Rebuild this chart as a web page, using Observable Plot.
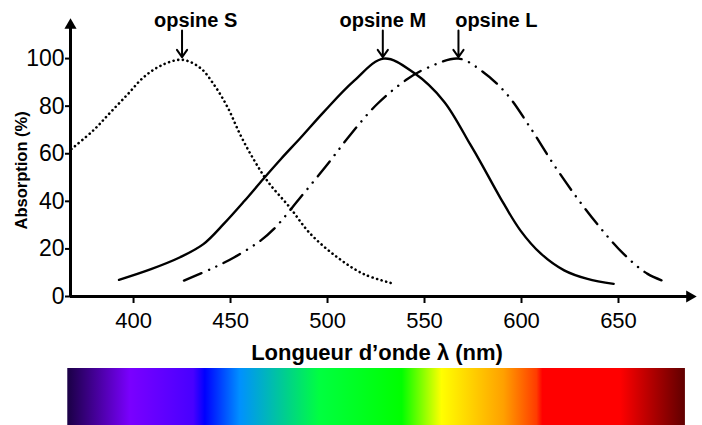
<!DOCTYPE html>
<html>
<head>
<meta charset="utf-8">
<script src="https://cdn.jsdelivr.net/npm/d3@7"></script>
<script src="https://cdn.jsdelivr.net/npm/@observablehq/plot@0.6"></script>
<style>
  html, body { margin: 0; padding: 0; background: #fff; }
  svg { display: block; }
</style>
</head>
<body>
<div id="chart"></div>
<script>
// ---- data ----
const xDomain = [367.5, 689.7];
const yDomain = [0, 116];
const xTicks = [400, 450, 500, 550, 600, 650];
const yTicks = [0, 20, 40, 60, 80, 100];

const sWl = [368, 379.5, 388, 397, 405, 414, 425, 434.5, 441.5, 448.5, 455, 462, 469.5, 480.5, 491, 505, 518.5, 533];
const sAbs = [62, 70, 77.3, 85, 92, 97, 99.5, 96, 89, 79.5, 68, 57.5, 48, 37.5, 26.5, 16.5, 9.5, 5.6];

const mWl = [392.5, 409, 424, 436, 446.5, 457, 467, 476, 486, 498, 513.5, 529, 544.5, 560, 573.5, 579, 589, 599.5, 610, 622, 634, 647.5];
const mAbs = [7, 11.5, 16.5, 22, 30.5, 40, 49.5, 57.8, 66.6, 77.5, 90.5, 100, 94, 82, 64, 56.3, 41.6, 27.7, 18, 11, 7.4, 5.3];

const lWl = [426, 440, 452, 465.5, 472.5, 486, 500, 512, 525.5, 541, 551.5, 567.5, 580, 592.5, 604.5, 616.5, 628.5, 640.5, 652.5, 665, 676];
const lAbs = [6.7, 11.6, 16.5, 23.5, 28.5, 41.6, 55.6, 68.2, 80.8, 91.3, 96.1, 100, 94.5, 85, 71, 55.6, 41.6, 29, 18, 9.5, 5.7];

const opsineNames = ["opsine S", "opsine M", "opsine L"];
const peakWl = [425, 528.5, 567.5];
const labelWl = [432, 528.5, 587];

const specWl = [366.1, 398.5, 431, 437, 455, 479, 496, 538.5, 559, 591, 608, 611, 651, 684.5];
const specColors = ["#1a0045", "#7a00ff", "#4800ff", "#0000ff", "#0090ff", "#00d08c", "#00ff40", "#00ff00", "#ffff00", "#ffa000", "#ff3c00", "#ff0000", "#ff0000", "#600000"];

const xLabel = "Longueur d’onde λ (nm)";
const yLabel = "Absorption (%)";
const yLabelPos = {x: 342.2, y: 53};

// ---- build ----
const toPts = (wl, v) => wl.map((w, i) => ({x: w, y: v[i]}));
const S = toPts(sWl, sAbs), M = toPts(mWl, mAbs), L = toPts(lWl, lAbs);
const ann = opsineNames.map((n, i) => ({name: n, peak: peakWl[i], lx: labelWl[i]}));

const font = "Liberation Sans, Arial, Helvetica, sans-serif";
const common = {
  width: 702, marginLeft: 70, marginRight: 7,
  style: {fontFamily: font, color: "#000", background: "#fff", overflow: "visible"}
};

const main = Plot.plot({
  ...common,
  height: 368, marginTop: 20, marginBottom: 72,
  x: {domain: xDomain},
  y: {domain: yDomain},
  marks: [
    Plot.axisX({ticks: xTicks, tickSize: 7, tickPadding: 9, fontSize: 22, strokeWidth: 2, label: null}),
    Plot.axisY({ticks: yTicks, tickSize: 5, tickPadding: 1, fontSize: 23, strokeWidth: 2, label: null}),
    Plot.line(S, {x: "x", y: "y", curve: "catmull-rom", stroke: "#000", strokeWidth: 2.6,
      strokeDasharray: "0.1,4.6", strokeLinecap: "round"}),
    Plot.line(L, {x: "x", y: "y", curve: "catmull-rom", stroke: "#000", strokeWidth: 2.4,
      strokeDasharray: "19,8,0.1,8,0.1,8", strokeLinecap: "round"}),
    Plot.line(M, {x: "x", y: "y", curve: "catmull-rom", stroke: "#000", strokeWidth: 2.4}),
    // axes lines with arrow heads
    Plot.ruleY([yDomain[0]], {x1: xDomain[0], x2: xDomain[1] - 3, stroke: "#000", strokeWidth: 3}),
    Plot.ruleX([xDomain[0]], {y1: yDomain[0], y2: yDomain[1] - 2, stroke: "#000", strokeWidth: 3}),
    Plot.dot([{x: xDomain[1] - 3, y: yDomain[0]}], {x: "x", y: "y", symbol: "triangle", r: 4.5, fill: "#000", rotate: 90}),
    Plot.dot([{x: xDomain[0], y: yDomain[1] - 2}], {x: "x", y: "y", symbol: "triangle", r: 4.5, fill: "#000"}),
    // opsine arrows & labels
    Plot.arrow(ann, {x1: "peak", x2: "peak", y1: 111.8, y2: 100.6, stroke: "#000", strokeWidth: 2,
      headLength: 11, headAngle: 70}),
    Plot.text(ann, {x: "lx", y: 113.1, text: "name", lineAnchor: "bottom", fontSize: 20, fontWeight: "bold",
      fill: "#000"}),
    // axis titles
    Plot.text([xLabel], {frameAnchor: "bottom", dx: -6, dy: 56, lineAnchor: "middle", fontSize: 22,
      fontWeight: "bold", fill: "#000"}),
    Plot.text([yLabel], {x: () => yLabelPos.x, y: () => yLabelPos.y, rotate: -90, fontSize: 16.5,
      fontWeight: "bold", fill: "#000", lineAnchor: "middle", textAnchor: "middle"})
  ]
});

const specData = [{x1: specWl[0], x2: specWl[specWl.length - 1]}];
const spectrum = Plot.plot({
  ...common,
  height: 57, marginTop: 0, marginBottom: 0,
  x: {domain: xDomain, axis: null},
  marks: [
    Plot.rect(specData, {x1: "x1", x2: "x2", fill: "url(#specGrad)"})
  ]
});

// gradient from the spectrum stops, placed through the x scale
const xs = spectrum.scale("x");
const gx0 = xs.apply(specWl[0]), gx1 = xs.apply(specWl[specWl.length - 1]);
const ns = "http://www.w3.org/2000/svg";
const defs = document.createElementNS(ns, "defs");
const grad = document.createElementNS(ns, "linearGradient");
grad.setAttribute("id", "specGrad");
grad.setAttribute("gradientUnits", "userSpaceOnUse");
grad.setAttribute("x1", gx0); grad.setAttribute("x2", gx1);
grad.setAttribute("y1", 0); grad.setAttribute("y2", 0);
specWl.forEach((w, i) => {
  const st = document.createElementNS(ns, "stop");
  st.setAttribute("offset", (xs.apply(w) - gx0) / (gx1 - gx0));
  st.setAttribute("stop-color", specColors[i]);
  grad.appendChild(st);
});
defs.appendChild(grad);
spectrum.insertBefore(defs, spectrum.firstChild);

const el = document.getElementById("chart");
el.appendChild(main);
el.appendChild(spectrum);
</script>
</body>
</html>
